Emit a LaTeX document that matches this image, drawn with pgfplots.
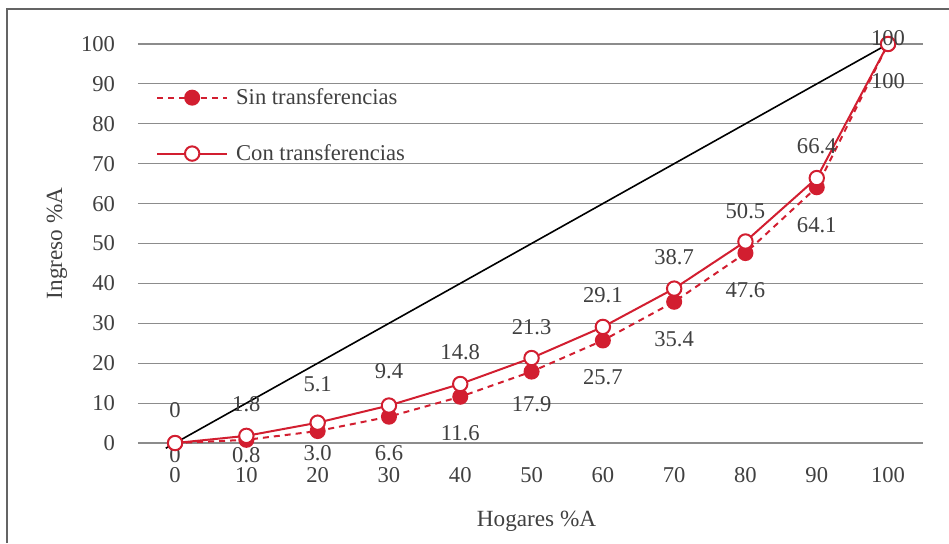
\documentclass[border=0pt]{standalone}
\usepackage{fontspec}
\setmainfont{Liberation Serif}
\usepackage{pgfplots}
\usepackage{pgfplotstable}
\pgfplotsset{compat=1.18}

\definecolor{lred}{RGB}{210,30,48}
\definecolor{txt}{RGB}{64,64,64}
\definecolor{gridc}{RGB}{140,140,140}
\definecolor{framec}{RGB}{100,100,100}

% x y label label-offset(pt)
\pgfplotstableread{
x y lab dy
0 0 0 -6
10 0.8 0.8 -7.5
20 3.0 3.0 -11
30 6.6 6.6 -18
40 11.6 11.6 -18
50 17.9 17.9 -16.5
60 25.7 25.7 -18.5
70 35.4 35.4 -18.5
80 47.6 47.6 -18.5
90 64.1 64.1 -19
100 100 100 -18.5
}\sintab

\pgfplotstableread{
x y lab dy
0 0 0 16.5
10 1.8 1.8 16
20 5.1 5.1 19
30 9.4 9.4 17
40 14.8 14.8 16
50 21.3 21.3 15.5
60 29.1 29.1 16
70 38.7 38.7 15.5
80 50.5 50.5 15
90 66.4 66.4 16
100 100 100 3
}\contab

\newcommand\chartfont{\fontsize{11.3}{13}\selectfont}

\pgfplotsset{
  datalabels/.style={
    nodes near coords,
    point meta=explicit symbolic,
    visualization depends on={\thisrow{dy} \as \dy},
    every node near coord/.append style={font=\chartfont, text=txt, anchor=center, yshift=\dy pt},
  },
}

\begin{document}
\begin{tikzpicture}[x=1pt,y=1pt]
\path[use as bounding box] (-69,-44) rectangle (405.5,227.5);
\draw[line width=0.8pt, framec] (-65.5,-44) -- (-65.5,223) -- (405.5,223);
\begin{axis}[
  at={(0,0)}, anchor=south west,
  scale only axis, width=392.5pt, height=211.5pt,
  xmin=-5.2, xmax=104.9, ymin=-3, ymax=103,
  clip=false,
  axis line style={draw=none},
  major tick length=0pt,
  xtick={0,10,...,100}, ytick={0,10,...,100},
  ymajorgrids, grid style={gridc, line width=0.6pt},
  /pgf/number format/assume math mode=true,
  tick label style={font=\chartfont, text=txt},
  yticklabel style={xshift=-8pt},
  xticklabel style={yshift=-2.6pt},
  xlabel={Hogares \%A}, ylabel={Ingreso \%A},
  every axis x label/.style={at={(axis description cs:0.5,0)}, xshift=3pt, yshift=-33pt, anchor=center,
    font=\fontsize{11.6}{13}\selectfont, text=txt},
  every axis y label/.style={at={(axis description cs:0,0.5)}, xshift=-40.5pt, rotate=90, anchor=center,
    font=\fontsize{11.6}{13}\selectfont, text=txt},
  legend style={draw=none, fill=none, at={(axis description cs:0.015,0.887)}, anchor=north west,
    font=\chartfont, text=txt, row sep=14.5pt, nodes={inner xsep=4pt}},
  legend cell align=left,
  legend image code/.code={\draw[mark repeat=2, mark phase=2, #1] plot coordinates {(0pt,0pt) (17.5pt,0pt) (35pt,0pt)};},
]
\addplot[black, line width=0.8pt, forget plot] coordinates {(-1.3,-1.3) (100,100)};

\addplot[lred, line width=1pt, dash pattern=on 3pt off 2.5pt, mark=*, mark size=3.5pt,
  mark options={solid, fill=lred, draw=lred}, datalabels]
  table[x=x, y=y, meta=lab] {\sintab};
\addlegendentry{Sin transferencias}

\addplot[lred, line width=1pt, mark=*, mark size=3.6pt,
  mark options={solid, fill=white, draw=lred}, datalabels]
  table[x=x, y=y, meta=lab] {\contab};
\addlegendentry{Con transferencias}
\end{axis}
\end{tikzpicture}
\end{document}
